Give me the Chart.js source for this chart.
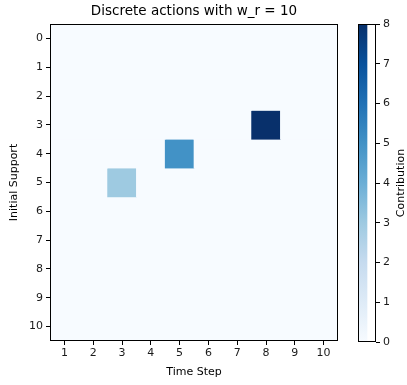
<!DOCTYPE html>
<html>
<head>
<meta charset="utf-8">
<script src="https://cdn.jsdelivr.net/npm/chart.js@4.4.1/dist/chart.umd.min.js"></script>
<style>
  html, body { margin: 0; padding: 0; background: #ffffff; }
  #wrap { position: relative; width: 407px; height: 385px; }
  #wrap canvas { position: absolute; left: 0; top: 0; }
</style>
</head>
<body>
<div id="wrap">
  <canvas id="heat" width="407" height="385"></canvas>
  <canvas id="cbar" width="407" height="385"></canvas>
</div>
<script>
// ---- data ----
const chartTitle = 'Discrete actions with w_r = 10';
const timeSteps = [1, 2, 3, 4, 5, 6, 7, 8, 9, 10];
const supports = [0, 1, 2, 3, 4, 5, 6, 7, 8, 9, 10];
// contribution per initial support (row) across time steps (columns)
const row0  = [0, 0, 0, 0, 0, 0, 0, 0, 0, 0];
const row1  = [0, 0, 0, 0, 0, 0, 0, 0, 0, 0];
const row2  = [0, 0, 0, 0, 0, 0, 0, 0, 0, 0];
const row3  = [0, 0, 0, 0, 0, 0, 0, 8, 0, 0];
const row4  = [0, 0, 0, 0, 5, 0, 0, 0, 0, 0];
const row5  = [0, 0, 3, 0, 0, 0, 0, 0, 0, 0];
const row6  = [0, 0, 0, 0, 0, 0, 0, 0, 0, 0];
const row7  = [0, 0, 0, 0, 0, 0, 0, 0, 0, 0];
const row8  = [0, 0, 0, 0, 0, 0, 0, 0, 0, 0];
const row9  = [0, 0, 0, 0, 0, 0, 0, 0, 0, 0];
const row10 = [0, 0, 0, 0, 0, 0, 0, 0, 0, 0];
const contributions = [row0, row1, row2, row3, row4, row5, row6, row7, row8, row9, row10];
const colorbarTicks = [0, 1, 2, 3, 4, 5, 6, 7, 8];
// matplotlib "Blues" colormap stops
const blues = ['#f7fbff', '#deebf7', '#c6dbef', '#9ecae1', '#6baed6', '#4292c6', '#2171b5', '#08519c', '#08306b'];

// ---- helpers ----
const FONT = "'DejaVu Sans', sans-serif";
const TXT = '#1a1a1a';
const FS = 11;
const vMin = colorbarTicks[0];
const vMax = colorbarTicks[colorbarTicks.length - 1];

function hexToRgb(h) {
  return [parseInt(h.slice(1, 3), 16), parseInt(h.slice(3, 5), 16), parseInt(h.slice(5, 7), 16)];
}
function colorFor(v) {
  let t = (v - vMin) / (vMax - vMin);
  t = Math.max(0, Math.min(1, t));
  const pos = t * (blues.length - 1);
  const i = Math.min(Math.floor(pos), blues.length - 2);
  const f = pos - i;
  const a = hexToRgb(blues[i]), b = hexToRgb(blues[i + 1]);
  const c = a.map((x, k) => Math.round(x + (b[k] - x) * f));
  return `rgb(${c[0]},${c[1]},${c[2]})`;
}

const frame = {
  id: 'frame',
  beforeDatasetsDraw(chart) {
    const { ctx, chartArea: a } = chart;
    ctx.save();
    ctx.fillStyle = colorFor(vMin);
    ctx.fillRect(a.left, a.top, a.right - a.left, a.bottom - a.top);
    ctx.restore();
  },
  afterDatasetsDraw(chart) {
    const { ctx, chartArea: a } = chart;
    ctx.save();
    ctx.strokeStyle = '#000';
    ctx.lineWidth = 1;
    ctx.strokeRect(Math.round(a.left) + 0.5, Math.round(a.top) + 0.5,
                   Math.round(a.right - a.left) - 1, Math.round(a.bottom - a.top) - 1);
    ctx.restore();
  }
};

// ---- heatmap ----
const heatDatasets = supports.map((s, r) => ({
  label: 'Support ' + s,
  data: timeSteps.map(() => [s - 0.5, s + 0.5]),
  backgroundColor: contributions[r].map(v => colorFor(v)),
  borderWidth: 0,
  barPercentage: 1,
  categoryPercentage: 1,
  grouped: false,
  borderSkipped: false
}));

new Chart(document.getElementById('heat'), {
  type: 'bar',
  data: { labels: timeSteps.map(String), datasets: heatDatasets },
  options: {
    responsive: false,
    animation: false,
    events: [],
    layout: { padding: { left: 0, right: 69, top: 0, bottom: 0 } },
    plugins: {
      legend: { display: false },
      tooltip: { enabled: false },
      title: {
        display: true,
        text: chartTitle,
        fullSize: false,
        color: '#000',
        font: { family: FONT, size: 13.5, weight: 'normal', lineHeight: 1.2 },
        padding: { top: 3, bottom: 4.8 }
      }
    },
    scales: {
      x: {
        type: 'category',
        offset: true,
        grid: { display: true, drawOnChartArea: false, offset: false, tickLength: 4, color: '#000', tickColor: '#000', tickWidth: 1 },
        border: { display: false },
        ticks: { color: TXT, font: { family: FONT, size: FS }, padding: 2, maxRotation: 0, autoSkip: false },
        title: { display: true, text: 'Time Step', color: '#000', font: { family: FONT, size: FS }, padding: { top: 0, bottom: 6.5 } },
        afterFit(scale) { scale.height = 44; }
      },
      y: {
        type: 'linear',
        reverse: true,
        min: supports[0] - 0.5,
        max: supports[supports.length - 1] + 0.5,
        afterBuildTicks(scale) { scale.ticks = supports.map(v => ({ value: v })); },
        grid: { display: true, drawOnChartArea: false, tickLength: 4, color: '#000', tickColor: '#000', tickWidth: 1 },
        border: { display: false },
        ticks: { color: TXT, font: { family: FONT, size: FS }, padding: 3, autoSkip: false },
        title: { display: true, text: 'Initial Support', color: '#000', font: { family: FONT, size: FS }, padding: { top: 8, bottom: 0 } },
        afterFit(scale) { scale.width = 50; }
      }
    }
  },
  plugins: [frame]
});

// ---- colorbar ----
const cbLabel = {
  id: 'cbLabel',
  afterDraw(chart) {
    const { ctx, chartArea: a } = chart;
    ctx.save();
    ctx.fillStyle = '#000';
    ctx.font = `${FS}px ${FONT}`;
    ctx.textAlign = 'center';
    ctx.textBaseline = 'middle';
    ctx.translate(401, (a.top + a.bottom) / 2);
    ctx.rotate(-Math.PI / 2);
    ctx.fillText('Contribution', 0, 0);
    ctx.restore();
  }
};
const cbFrame = {
  id: 'cbFrame',
  afterDatasetsDraw(chart) {
    const { ctx, chartArea: a } = chart;
    ctx.save();
    ctx.strokeStyle = '#000';
    ctx.lineWidth = 1;
    ctx.strokeRect(Math.round(a.left) + 0.5, Math.round(a.top) + 0.5,
                   Math.round(a.right - a.left) - 1, Math.round(a.bottom - a.top) - 1);
    ctx.restore();
  }
};

new Chart(document.getElementById('cbar'), {
  type: 'bar',
  data: {
    labels: ['Contribution'],
    datasets: [{
      data: [[vMin, vMax]],
      barPercentage: 1,
      categoryPercentage: 1,
      borderWidth: 0,
      borderSkipped: false,
      backgroundColor(ctx) {
        const area = ctx.chart.chartArea;
        if (!area) return blues[0];
        const y = ctx.chart.scales.y;
        const g = ctx.chart.ctx.createLinearGradient(0, y.getPixelForValue(vMin), 0, y.getPixelForValue(vMax));
        blues.forEach((c, i) => g.addColorStop(i / (blues.length - 1), c));
        return g;
      }
    }]
  },
  options: {
    responsive: false,
    animation: false,
    events: [],
    layout: { padding: { left: 358, right: 0, top: 24, bottom: 43 } },
    plugins: { legend: { display: false }, tooltip: { enabled: false }, title: { display: false } },
    scales: {
      x: { display: false, offset: false },
      y: {
        position: 'right',
        min: vMin,
        max: vMax,
        afterBuildTicks(scale) { scale.ticks = colorbarTicks.map(v => ({ value: v })); },
        grid: { display: true, drawOnChartArea: false, tickLength: 4, color: '#000', tickColor: '#000', tickWidth: 1 },
        border: { display: false },
        ticks: { color: TXT, font: { family: FONT, size: FS }, padding: 3 },
        afterFit(scale) { scale.width = 31; }
      }
    }
  },
  plugins: [cbFrame, cbLabel]
});
</script>
</body>
</html>
